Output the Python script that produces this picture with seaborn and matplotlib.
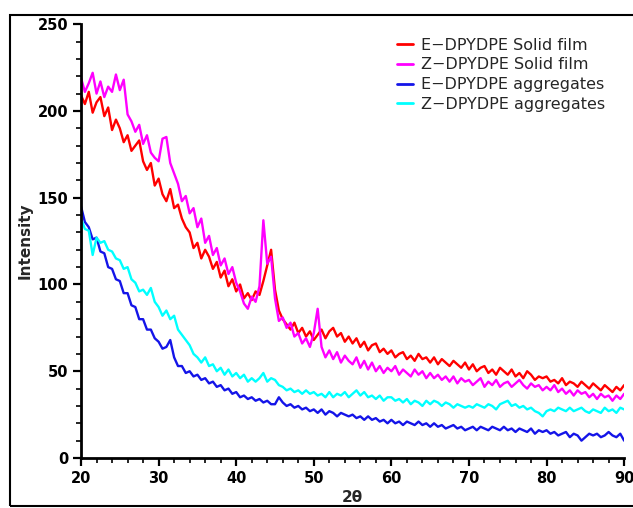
import numpy as np
import pandas as pd
import matplotlib
matplotlib.use("Agg")
import matplotlib.pyplot as plt
from matplotlib.patches import Rectangle
from matplotlib.ticker import MultipleLocator
import seaborn as sns

# 2-theta grid (0.5 degree steps, 20..90)
two_theta = np.linspace(20, 90, 141)

e_solid = [
    209, 204, 211, 199, 205, 208, 197, 202, 189, 195,
    190, 182, 186, 177, 180, 183, 171, 166, 170, 157,
    161, 152, 148, 155, 144, 146, 138, 133, 130, 121,
    124, 115, 120, 116, 109, 113, 104, 108, 99, 103,
    96, 100, 92, 95, 91, 96, 94, 102, 111, 120,
    97, 85, 80, 77, 74, 78, 72, 75, 70, 73,
    68, 71, 74, 69, 73, 75, 70, 72, 67, 70,
    66, 69, 64, 67, 62, 65, 66, 61, 63, 60,
    62, 58, 60, 61, 57, 59, 56, 60, 57, 58,
    55, 58, 54, 57, 55, 53, 56, 54, 52, 55,
    51, 54, 50, 52, 53, 49, 51, 48, 52, 50,
    48, 51, 47, 49, 46, 50, 48, 45, 47, 46,
    47, 44, 45, 43, 46, 42, 44, 43, 41, 44,
    42, 40, 43, 41, 39, 42, 40, 38, 41, 39,
    42,
]

z_solid = [
    219, 211, 216, 222, 210, 217, 208, 214, 211, 221,
    212, 218, 198, 194, 188, 192, 181, 186, 176, 173,
    171, 184, 185, 170, 164, 158, 148, 151, 141, 144,
    133, 138, 124, 128, 117, 121, 111, 115, 106, 110,
    101, 96, 89, 86, 93, 90, 99, 137, 112, 116,
    92, 79, 81, 75, 78, 70, 72, 66, 69, 64,
    72, 86, 64, 58, 62, 57, 61, 55, 59, 56,
    54, 58, 52, 56, 51, 55, 50, 53, 49, 52,
    50, 53, 48, 51, 49, 47, 51, 48, 50, 46,
    49, 46, 48, 45, 47, 44, 47, 43, 46, 44,
    45, 42, 44, 46, 41, 44, 42, 45, 41, 43,
    44, 41, 43, 45, 42, 40, 43, 41, 42, 39,
    41, 39, 42, 38, 40, 37, 39, 36, 39, 37,
    38, 35, 37, 34, 37, 35, 36, 33, 36, 34,
    37,
]

e_aggr = [
    145, 136, 133, 126, 127, 119, 118, 110, 109, 103,
    102, 95, 95, 88, 87, 80, 80, 74, 74, 69,
    67, 63, 64, 68, 58, 53, 53, 49, 50, 47,
    48, 45, 46, 43, 44, 41, 42, 39, 40, 37,
    38, 35, 36, 34, 35, 33, 34, 32, 33, 31,
    31, 35, 32, 30, 31, 29, 30, 28, 29, 27,
    28, 26, 28, 25, 27, 26, 24, 26, 25, 24,
    25, 23, 24, 22, 24, 22, 23, 21, 22, 20,
    22, 20, 21, 19, 21, 20, 19, 21, 19, 20,
    18, 20, 18, 19, 17, 18, 19, 17, 18, 16,
    17, 18, 16, 18, 17, 16, 18, 17, 16, 18,
    16, 17, 15, 17, 16, 15, 17, 14, 16, 15,
    16, 14, 15, 13, 14, 15, 12, 14, 13, 10,
    12, 14, 13, 14, 12, 13, 15, 13, 12, 14,
    10,
]

z_aggr = [
    138, 132, 131, 117, 127, 124, 125, 120, 119, 115,
    114, 109, 110, 103, 101, 96, 97, 94, 98, 90,
    87, 82, 85, 80, 82, 74, 71, 68, 65, 60,
    58, 55, 58, 53, 54, 50, 52, 48, 51, 47,
    49, 46, 48, 44, 46, 44, 46, 49, 44, 46,
    45, 42, 41, 39, 40, 38, 39, 37, 39, 37,
    38, 36, 37, 35, 38, 35, 37, 36, 38, 35,
    37, 39, 36, 38, 35, 36, 34, 36, 33, 35,
    35, 33, 34, 32, 34, 31, 33, 32, 30, 33,
    31, 33, 32, 30, 32, 31, 29, 31, 30, 29,
    30, 29, 31, 30, 29, 31, 30, 28, 31, 32,
    33, 30, 31, 29, 30, 28, 29, 27, 26, 24,
    27, 28, 27, 29, 28, 27, 29, 27, 28, 29,
    27, 26, 28, 27, 26, 29, 27, 28, 26, 29,
    28,
]

labels = ["E\u2212DPYDPE Solid film", "Z\u2212DPYDPE Solid film",
          "E\u2212DPYDPE aggregates", "Z\u2212DPYDPE aggregates"]
colors = ["#ff0000", "#ff00ff", "#1414e8", "#00ffff"]

frames = []
for lab, vals in zip(labels, [e_solid, z_solid, e_aggr, z_aggr]):
    frames.append(pd.DataFrame({"x": two_theta, "y": vals, "series": lab}))
df = pd.concat(frames, ignore_index=True)

sns.set_style("ticks")
plt.rcParams["font.family"] = ["DejaVu Sans"]

fig = plt.figure(figsize=(6.33, 5.08), dpi=100)
ax = fig.add_axes([0.128, 0.0984, 0.858, 0.854])

sns.lineplot(data=df, x="x", y="y", hue="series", hue_order=labels,
             palette=dict(zip(labels, colors)), linewidth=1.7, ax=ax,
             estimator=None, sort=False)

ax.set_xlim(20, 90)
ax.set_ylim(0, 250)
ax.xaxis.set_major_locator(MultipleLocator(10))
ax.xaxis.set_minor_locator(MultipleLocator(2))
ax.yaxis.set_major_locator(MultipleLocator(50))
ax.yaxis.set_minor_locator(MultipleLocator(10))

for s in ["top", "right"]:
    ax.spines[s].set_visible(False)
for s in ["left", "bottom"]:
    ax.spines[s].set_linewidth(2)
    ax.spines[s].set_color("black")

ax.tick_params(which="major", direction="out", length=6, width=1.6,
               labelsize=10.5, pad=3, colors="black")
ax.tick_params(which="minor", direction="out", length=3.5, width=1.4)
for t in ax.get_xticklabels() + ax.get_yticklabels():
    t.set_fontweight("bold")

ax.set_xlabel("2\u03b8", fontsize=11, fontweight="bold", labelpad=3)
ax.set_ylabel("Intensity", fontsize=11, fontweight="bold", labelpad=4)

leg = ax.legend(loc="upper right", bbox_to_anchor=(0.985, 0.995), frameon=False,
                fontsize=11.5, handlelength=1.0, handletextpad=0.5,
                labelspacing=0.3, borderaxespad=0.3)
for line in leg.get_lines():
    line.set_linewidth(2)

# outer frame of the original figure
fig.patches.append(Rectangle((10 / 633, 2 / 508), 1.0, (508 - 17) / 508,
                             transform=fig.transFigure, fill=False,
                             edgecolor="black", linewidth=1.5))

fig.savefig("out.png", dpi=100)
